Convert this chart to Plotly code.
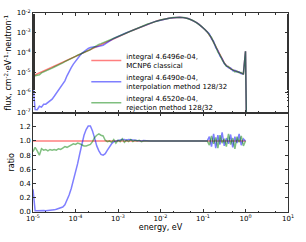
import numpy as np
import plotly.graph_objects as go
from plotly.subplots import make_subplots

# ---------------- data ----------------
# energy grid: log10(E/eV) from -5 to 0 in steps of 0.05, plus a cutoff point
log_energy = list(np.round(np.linspace(-5.0, 0.0, 101), 2))
cutoff_log_energy = 0.05

# MCNP6 classical flux, log10(cm^-2 eV^-1 neutron^-1)
classical_log10 = [
    -5.16, -5.11, -5.06, -5.01, -4.96, -4.91, -4.86, -4.81, -4.76, -4.71,
    -4.66, -4.61, -4.56, -4.51, -4.46, -4.41, -4.36, -4.31, -4.26, -4.21,
    -4.16, -4.11, -4.06, -4.01, -3.965, -3.915, -3.865, -3.815, -3.765, -3.715,
    -3.67, -3.62, -3.57, -3.52, -3.47, -3.42, -3.375, -3.325, -3.275, -3.23,
    -3.18, -3.135, -3.09, -3.045, -3.00, -2.955, -2.91, -2.865, -2.82, -2.775,
    -2.73, -2.685, -2.64, -2.60, -2.56, -2.52, -2.48, -2.445, -2.41, -2.38,
    -2.35, -2.325, -2.30, -2.28, -2.26, -2.245, -2.23, -2.22, -2.215, -2.215,
    -2.22, -2.23, -2.25, -2.28, -2.32, -2.365, -2.42, -2.485, -2.56, -2.645,
    -2.74, -2.84, -2.95, -3.08, -3.26, -3.47, -3.69, -3.92, -4.14, -4.34,
    -4.51, -4.64, -4.73, -4.80, -4.86, -4.91, -4.95, -4.99, -5.02, -5.06,
    -3.92,
]
cutoff_log10 = -12.0  # flux vanishes above the cutoff

# ratio to MCNP6 classical: interpolation method 128/32
ratio_interp = [
    0.32, 0.018, 0.016, 0.021, 0.017, 0.021, 0.019, 0.020, 0.021, 0.024,
    0.030, 0.038, 0.050, 0.058, 0.070, 0.10, 0.16, 0.24, 0.33, 0.44,
    0.56, 0.68, 0.82, 0.96, 1.08, 1.16, 1.21, 1.21, 1.14, 1.04,
    0.93, 0.86, 0.81, 0.80, 0.82, 0.87, 0.92, 0.96, 0.99, 1.00,
    1.01, 1.02, 1.02, 1.02, 1.01, 1.02, 1.02, 1.01, 1.01, 1.005,
    1.00, 1.00, 1.005, 1.00, 1.00, 1.00, 1.00, 1.00, 1.00, 1.00,
    1.00, 1.00, 1.00, 1.00, 1.00, 1.00, 1.00, 1.00, 1.00, 1.00,
    1.00, 1.00, 1.00, 1.00, 1.00, 1.00, 1.00, 1.00, 1.00, 1.00,
    1.00, 1.00, 1.00, 1.06, 0.92, 1.10, 0.90, 1.08, 0.95, 1.12,
    0.93, 1.04, 0.96, 1.09, 0.91, 1.06, 0.97, 1.10, 0.94, 1.03,
    1.00,
]

# ratio to MCNP6 classical: rejection method 128/32
ratio_reject = [
    0.85, 0.91, 0.86, 0.80, 0.89, 0.87, 0.88, 0.86, 0.88, 0.87,
    0.88, 0.87, 0.89, 0.88, 0.90, 0.92, 0.91, 0.93, 0.94, 0.96,
    0.95, 0.97, 0.96, 0.94, 0.93, 0.93, 0.94, 0.95, 0.99, 1.05,
    1.08, 1.10, 1.08, 1.07, 1.01, 0.99, 1.00, 0.98, 1.02, 0.97,
    1.01, 0.99, 1.03, 0.98, 1.01, 0.99, 1.02, 0.99, 1.01, 1.00,
    1.01, 0.99, 1.00, 1.00, 1.01, 1.00, 1.00, 1.00, 1.00, 1.00,
    1.00, 1.00, 1.00, 1.00, 1.00, 1.00, 1.00, 1.00, 1.00, 1.00,
    1.00, 1.00, 1.00, 1.00, 1.00, 1.00, 1.00, 1.00, 1.00, 1.00,
    1.00, 1.00, 1.00, 0.94, 1.07, 0.96, 1.05, 0.90, 1.08, 0.97,
    1.03, 0.92, 1.10, 0.95, 1.04, 0.89, 1.06, 0.98, 1.07, 0.93,
    1.00,
]

series_names = [
    "integral 4.6496e-04,<br>MCNP6 classical",
    "integral 4.6490e-04,<br>interpolation method 128/32",
    "integral 4.6520e-04,<br>rejection method 128/32",
]
series_colors = ["rgba(255,0,0,0.5)", "rgba(0,0,255,0.5)", "rgba(0,128,0,0.5)"]

x_tick_exponents = [-5, -4, -3, -2, -1, 0, 1]
y_tick_exponents = [-7, -6, -5, -4, -3, -2]
ratio_ticks = [0.0, 0.2, 0.4, 0.6, 0.8, 1.0, 1.2]

# ---------------- derived arrays ----------------
energy = [10 ** v for v in log_energy] + [10 ** cutoff_log_energy]
classical = [10 ** v for v in classical_log10] + [10 ** cutoff_log10]
interp = [c * r for c, r in zip(classical[:-1], ratio_interp)] + [classical[-1]]
reject = [c * r for c, r in zip(classical[:-1], ratio_reject)] + [classical[-1]]
ratio_classical = [c / c for c in classical[:-1]]

fluxes = [classical, interp, reject]
ratios = [ratio_classical, ratio_interp, ratio_reject]

fig = make_subplots(rows=2, cols=1, shared_xaxes=True, vertical_spacing=0)

for name, col, fl in zip(series_names, series_colors, fluxes):
    fig.add_trace(go.Scatter(x=energy, y=fl, mode="lines", name=name,
                             line=dict(color=col, width=1.5)), row=1, col=1)
for name, col, rt in zip(series_names, series_colors, ratios):
    fig.add_trace(go.Scatter(x=energy[:-1], y=rt, mode="lines", name=name,
                             showlegend=False,
                             line=dict(color=col, width=1.5)), row=2, col=1)

axis_line = dict(showline=True, linecolor="#333333", linewidth=1, mirror="ticks",
                 ticks="inside", ticklen=3, tickcolor="#333333", tickwidth=1,
                 showgrid=False, zeroline=False, automargin=False)
minor_log = dict(ticks="inside", ticklen=1.5, tickcolor="#333333", showgrid=False)

xticktext = ["10<sup>%d</sup>" % e for e in x_tick_exponents]
xtickvals = [10.0 ** e for e in x_tick_exponents]

fig.update_xaxes(type="log", range=[-5, 1], tickvals=xtickvals, ticktext=xticktext,
                 minor=minor_log, **axis_line)
fig.update_xaxes(showticklabels=False, row=1, col=1)
fig.update_xaxes(title=dict(text="energy, eV", font=dict(size=8), standoff=1),
                 automargin=True, row=2, col=1)

fig.update_yaxes(type="log", range=[-7, -2],
                 tickvals=[10.0 ** e for e in y_tick_exponents],
                 ticktext=["10<sup>%d</sup>" % e for e in y_tick_exponents],
                 minor=minor_log,
                 title=dict(text="flux, cm<sup>-2</sup>·eV<sup>-1</sup>·neutron<sup>-1</sup>",
                            font=dict(size=8), standoff=3),
                 row=1, col=1, **axis_line)
fig.update_yaxes(range=[0, 1.4], tickvals=ratio_ticks,
                 ticktext=["%.1f" % v for v in ratio_ticks],
                 title=dict(text="ratio", font=dict(size=8), standoff=3),
                 row=2, col=1, **axis_line)

fig.update_layout(
    width=306, height=242,
    margin=dict(l=33, r=13, t=13, b=27),
    plot_bgcolor="white", paper_bgcolor="white",
    font=dict(family="DejaVu Sans", size=7, color="black"),
    legend=dict(x=0.209, y=0.84, xanchor="left", yanchor="top",
                bgcolor="rgba(0,0,0,0)", font=dict(size=7), valign="middle",
                tracegroupgap=0, itemwidth=30),
)

fig.write_html("out.html",
               config={"displayModeBar": False},
               post_script="document.body.style.margin='0';"
                           "document.body.style.overflow='hidden';")
